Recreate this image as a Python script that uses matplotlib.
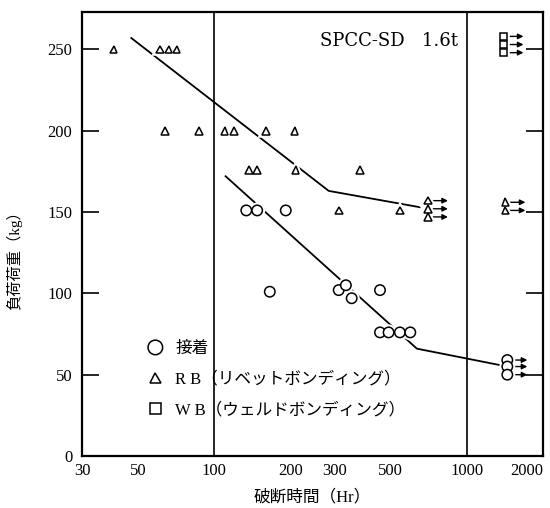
import matplotlib
matplotlib.use('Agg')
import matplotlib.pyplot as plt
import matplotlib.patheffects as pe
from matplotlib.ticker import NullFormatter, FixedLocator

plt.rcParams['font.family'] = ['Liberation Serif', 'Noto Sans CJK JP']

# 接着 (adhesive) results, hours / kg
ad_x = [134, 148, 192, 166, 311, 332, 350, 453, 453, 490, 543, 597]
ad_y = [151, 151, 151, 101, 102, 105, 97, 102, 76, 76, 76, 76]
ad_run_x = [1445, 1445, 1445]          # not broken (arrows)
ad_run_y = [59, 55, 50]

# RB (rivet bonding)
rb_x = [40, 61, 66, 71, 64, 87, 110, 120, 160, 208, 137, 148, 210, 377, 311, 543]
rb_y = [250, 250, 250, 250, 200, 200, 200, 200, 200, 200, 176, 176, 176, 176, 151, 151]
rb_run_x = [701, 701, 701, 1420, 1420]
rb_run_y = [157, 152, 147, 156, 151]

# WB (weld bonding), all not broken
wb_run_x = [1395, 1395, 1395]
wb_run_y = [258, 253, 248]

# fitted lines
rb_fit_x = [47, 284, 650]
rb_fit_y = [257, 163, 153]
ad_fit_x = [111, 634, 1445]
ad_fit_y = [172, 66, 55]

xticks = [30, 50, 100, 200, 300, 500, 1000, 2000]
yticks = [0, 50, 100, 150, 200, 250]

fig = plt.figure(figsize=(5.5, 5.08), dpi=100)
ax = fig.add_axes([82 / 550, 52 / 508, 461 / 550, 444 / 508])

ax.set_xscale('log')
ax.set_xlim(30, 2000)
ax.set_ylim(0, 273)

for xv in [100, 1000]:
    ax.axvline(xv, color='black', lw=1.2, zorder=1)

ax.plot(rb_fit_x, rb_fit_y, color='black', lw=1.3, zorder=2)
ax.plot(ad_fit_x, ad_fit_y, color='black', lw=1.3, zorder=2)

halo = [pe.Stroke(linewidth=4, foreground='white'), pe.Normal()]
mk = dict(linestyle='none', markerfacecolor='white', markeredgecolor='black',
          markeredgewidth=1.1, zorder=4, path_effects=halo)

# arrows for unbroken specimens
ratio = 1.2
for xs, ys in [(ad_run_x, ad_run_y), (rb_run_x, rb_run_y), (wb_run_x, wb_run_y)]:
    for x, y in zip(xs, ys):
        ax.annotate('', xy=(x * ratio, y), xytext=(x, y),
                    arrowprops=dict(arrowstyle='-|>', lw=1.0, color='black',
                                    mutation_scale=8, shrinkA=3, shrinkB=0),
                    zorder=3)

h1, = ax.plot(ad_x + ad_run_x, ad_y + ad_run_y, marker='o', markersize=7.5, **mk)
h2, = ax.plot(rb_x + rb_run_x, rb_y + rb_run_y, marker='^', markersize=5.5, **mk)
h3, = ax.plot(wb_run_x, wb_run_y, marker='s', markersize=5.5, **mk)

ax.set_xticks(xticks)
ax.set_xticklabels([str(v) for v in xticks])
ax.get_xticklabels()[-1].set_horizontalalignment('right')
ax.xaxis.set_minor_locator(FixedLocator([50, 200, 300, 500]))
ax.xaxis.set_minor_formatter(NullFormatter())
ax.tick_params(axis='x', which='major', length=0, pad=5, labelsize=12)
ax.tick_params(axis='x', which='minor', length=9, width=1.2, direction='in',
               top=True, bottom=True)
ax.set_yticks(yticks)
ax.tick_params(axis='y', which='major', length=12, width=1.2, direction='in',
               left=True, right=True, pad=7, labelsize=12)

for s in ax.spines.values():
    s.set_linewidth(1.6)

ax.set_xlabel('破断時間（Hr）', fontsize=12)
ax.xaxis.set_label_coords(0.5, -0.075)
ax.set_ylabel('負荷荷重（kg）', fontsize=11)
ax.yaxis.set_label_coords(-0.13, 0.45)

ax.text(0.816, 0.923, 'SPCC-SD   1.6t', transform=ax.transAxes, ha='right',
        va='baseline', fontsize=13, family=['DejaVu Serif'])

ax.legend([h1, h2, h3], ['接着', 'R B（リベットボンディング）', 'W B（ウェルドボンディング）'],
          loc='lower left', bbox_to_anchor=(0.141, 0.085), frameon=False,
          fontsize=12, markerscale=1.4, handlelength=1.0, handletextpad=0.7,
          labelspacing=0.87, borderpad=0, borderaxespad=0)

fig.savefig('out.png', dpi=100)
